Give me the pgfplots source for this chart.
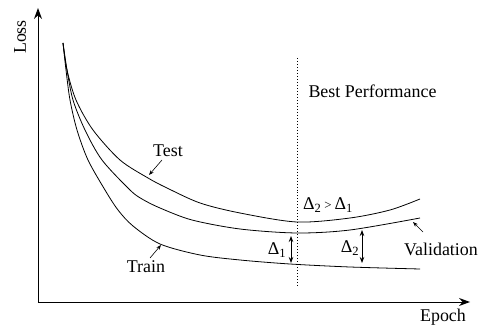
\documentclass[border=0pt]{standalone}
\usepackage{fontspec}
\setmainfont{Liberation Serif}
\usepackage{pgfplots}
\pgfplotsset{compat=1.18}
\usetikzlibrary{arrows.meta}

\begin{document}
\begin{tikzpicture}[every node/.style={font=\fontsize{18}{21}\selectfont}]
\begin{axis}[
    x=1bp, y=1bp,
    xmin=38, xmax=470, ymin=27, ymax=321,
    axis lines=left,
    axis line style={line width=1pt, -{Stealth[length=11pt,width=8pt]}},
    ticks=none,
    clip=false,
]
% pixel-space data, y = 329 - row
% Train
\addplot[smooth, line width=0.8pt] coordinates {
 (63,286) (66,259) (70,229) (77,199) (88,169) (105,139) (118,119)
 (133,103) (160,85) (200,74) (240,69) (290,65) (350,62) (420,60)};
% Validation
\addplot[smooth, line width=0.8pt] coordinates {
 (63,286) (67,259) (73,229) (85,199) (102,169) (130,139) (142,130)
 (160,121) (192,109) (240,100) (297,96) (350,99) (420,111)};
% Test
\addplot[smooth, line width=0.8pt] coordinates {
 (63,286) (67,259) (76,229) (93,199) (120,169) (148,151) (167,141)
 (200,126) (240,116) (297,107) (350,111) (390,119) (420,130)};

\draw[dotted, line width=1pt] (axis cs:297,271) -- (axis cs:297,42);

\node[anchor=west] at (axis cs:305,238) {Best Performance};
\node at (axis cs:168,178) {Test};
\draw[-{Stealth[length=5pt]}, line width=0.6pt] (axis cs:162,169) -- (axis cs:149,154);
\node at (axis cs:146,62) {Train};
\draw[-{Stealth[length=5pt]}, line width=0.6pt] (axis cs:150,71) -- (axis cs:161,84);
\node at (axis cs:441,80) {Validation};
\draw[-{Stealth[length=5pt]}, line width=0.6pt] (axis cs:423,97) -- (axis cs:413,107);
\node at (axis cs:328,124) {Δ\textsubscript{2}\,{\fontsize{13}{14}\selectfont >}\,Δ\textsubscript{1}};

\draw[{Stealth[length=6pt]}-{Stealth[length=6pt]}, line width=0.8pt] (axis cs:291,93) -- (axis cs:291,66);
\node at (axis cs:277,79) {Δ\textsubscript{1}};
\draw[{Stealth[length=6pt]}-{Stealth[length=6pt]}, line width=0.8pt] (axis cs:362,99) -- (axis cs:362,66);
\node at (axis cs:350,81) {Δ\textsubscript{2}};

\node[rotate=90] at (axis cs:20,292) {Loss};
\node[anchor=base] at (axis cs:443,7) {Epoch};

\path (axis cs:0,0) rectangle (axis cs:484,329);
\end{axis}
\end{tikzpicture}
\end{document}
